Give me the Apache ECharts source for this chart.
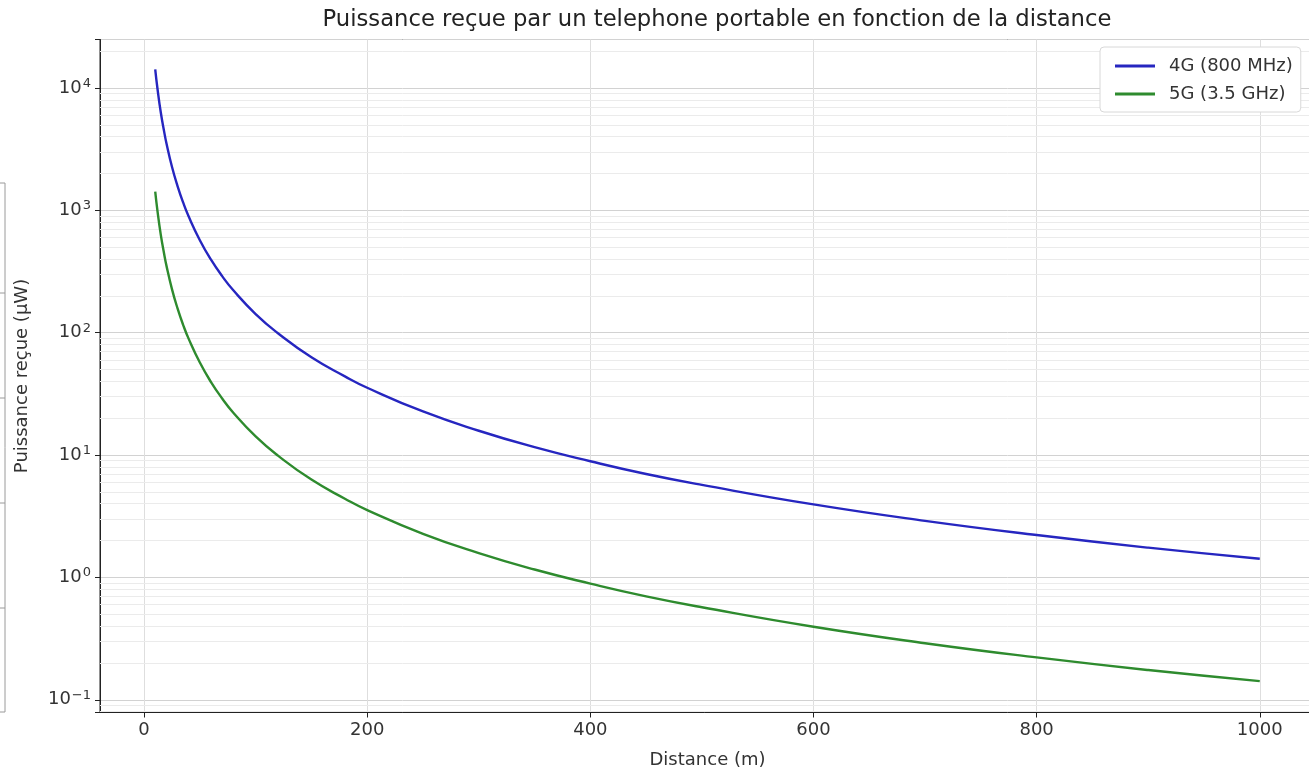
<!DOCTYPE html>
<html>
<head>
<meta charset="utf-8">
<title>Puissance reçue</title>
<script src="https://cdn.jsdelivr.net/npm/echarts@6/dist/echarts.min.js"></script>
<style>
  html, body { margin: 0; padding: 0; background: #fff; }
  #main { width: 1309px; height: 768px; }
</style>
</head>
<body>
<div id="main"></div>
<script>
// distances (m)
var distances = [10, 12, 15, 18, 20, 25, 30, 35, 40, 50, 60, 70, 80, 100, 120, 150, 180, 200, 250, 300, 350, 400, 450, 500, 600, 700, 800, 900, 1000];
// puissance reçue (µW)
var p4G = [14200, 9900, 6300, 4400, 3550, 2270, 1580, 1160, 890, 570, 395, 290, 222, 142, 99, 63, 44, 35.5, 22.7, 15.8, 11.6, 8.9, 7.0, 5.7, 3.95, 2.9, 2.22, 1.75, 1.42];
var p5G = [1420, 990, 630, 440, 355, 227, 158, 116, 89, 57, 39.5, 29, 22.2, 14.2, 9.9, 6.3, 4.4, 3.55, 2.27, 1.58, 1.16, 0.89, 0.70, 0.57, 0.395, 0.29, 0.222, 0.175, 0.142];
var xTicks = [0, 200, 400, 600, 800, 1000];

function pairs(ys) {
  return distances.map(function (d, i) { return [d, ys[i]]; });
}

// lignes secondaires 2..9 de chaque décade
var minorLines = [];
[-2, -1, 0, 1, 2, 3, 4].forEach(function (e) {
  for (var k = 2; k <= 9; k++) {
    var v = k * Math.pow(10, e);
    if (v > 0.0787 && v < 24900) minorLines.push({ yAxis: v });
  }
});

var font = 'DejaVu Sans';
var chart = echarts.init(document.getElementById('main'));
chart.setOption({
  animation: false,
  title: {
    text: 'Puissance reçue par un telephone portable en fonction de la distance',
    left: 712, top: 4, textAlign: 'center',
    textStyle: { fontFamily: font, fontSize: 22.7, fontWeight: 'normal', color: '#222' }
  },
  grid: {
    left: 100, top: 39.5, width: 1215, height: 673,
    outerBoundsMode: 'none', containLabel: false,
    show: true, borderColor: '#222', borderWidth: 1, backgroundColor: 'transparent'
  },
  legend: {
    orient: 'vertical', left: 1100, top: 47,
    itemWidth: 40, itemHeight: 3, itemGap: 10,
    padding: [10, 8, 9, 15],
    backgroundColor: '#fff', borderColor: '#d8d8d8', borderWidth: 1, borderRadius: 4,
    itemStyle: { borderWidth: 0 },
    textStyle: { fontFamily: font, fontSize: 18, color: '#333', padding: [0, 0, 0, 9] },
    data: [
      { name: '4G (800 MHz)', icon: 'rect' },
      { name: '5G (3.5 GHz)', icon: 'rect' }
    ]
  },
  xAxis: {
    type: 'value', min: -39.5, max: 1049.5, interval: 200,
    name: 'Distance (m)', nameLocation: 'middle', nameGap: 39,
    nameTextStyle: { fontFamily: font, fontSize: 18, color: '#333' },
    axisLine: { show: true, onZero: false, lineStyle: { color: '#222' } },
    axisTick: { show: true, length: 5, lineStyle: { color: '#222' }, customValues: xTicks },
    axisLabel: {
      customValues: xTicks, margin: 9,
      formatter: function (v) { return String(v); },
      fontFamily: font, fontSize: 18, color: '#333'
    },
    splitLine: { show: true, lineStyle: { color: '#dedede', width: 1 } }
  },
  yAxis: {
    type: 'log', min: 0.0787, max: 24900,
    name: 'Puissance reçue (µW)', nameLocation: 'middle', nameGap: 69, nameRotate: 90,
    nameTextStyle: { fontFamily: font, fontSize: 18, color: '#333' },
    axisLine: { show: true, onZero: false, lineStyle: { color: '#222' } },
    axisTick: { show: true, length: 5, lineStyle: { color: '#222' } },
    axisLabel: {
      margin: 9, color: '#333',
      formatter: function (v) {
        var l = Math.log10(v), e = Math.round(l);
        if (Math.abs(l - e) > 1e-6) return '';
        var s = String(e).replace('-', '\u2212');
        return '{b|10}{s|' + s + '}';
      },
      rich: {
        b: { fontFamily: font, fontSize: 18, color: '#333' },
        s: { fontFamily: font, fontSize: 13, color: '#333', verticalAlign: 'top', padding: [0, 0, 9, 1] }
      }
    },
    splitLine: { show: true, lineStyle: { color: '#d2d2d2', width: 1 } }
  },
  graphic: [{
    type: 'polyline', silent: true,
    shape: { points: [[0, 183], [5, 183], [5, 712], [0, 712]] },
    style: { stroke: '#9a9a9a', fill: null, lineWidth: 1 }
  }].concat([293, 398, 503, 608].map(function (y) {
    return { type: 'line', silent: true, shape: { x1: 0, y1: y, x2: 5, y2: y }, style: { stroke: '#9a9a9a', lineWidth: 1 } };
  })),
  series: [
    {
      // support des lignes secondaires, sous les courbes
      name: 'minor', type: 'line', data: [], z: 1, silent: true,
      markLine: {
        z: 1, silent: true, symbol: 'none', label: { show: false },
        lineStyle: { color: '#ebebeb', width: 1, type: 'solid' },
        data: minorLines, animation: false
      }
    },
    {
      name: '4G (800 MHz)', type: 'line', data: pairs(p4G), z: 3,
      smooth: true, showSymbol: false, symbol: 'none',
      color: '#2626c0', lineStyle: { width: 2.4, color: '#2626c0' }
    },
    {
      name: '5G (3.5 GHz)', type: 'line', data: pairs(p5G), z: 3,
      smooth: true, showSymbol: false, symbol: 'none',
      color: '#2e8b2e', lineStyle: { width: 2.4, color: '#2e8b2e' }
    }
  ]
});
</script>
</body>
</html>
